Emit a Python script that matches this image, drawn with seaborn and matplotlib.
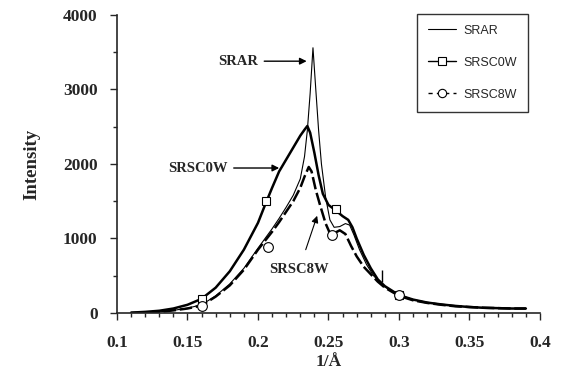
import numpy as np
import pandas as pd
import matplotlib
matplotlib.use("Agg")
import matplotlib.pyplot as plt
from matplotlib.lines import Line2D
from matplotlib.ticker import MultipleLocator
import seaborn as sns

# values
srar_x = [0.11, 0.12, 0.13, 0.14, 0.15, 0.16, 0.17, 0.18, 0.19, 0.20, 0.205, 0.21, 0.215,
          0.22, 0.225, 0.23, 0.233, 0.235, 0.237, 0.239, 0.241, 0.243, 0.245, 0.248, 0.251,
          0.254, 0.258, 0.262, 0.265, 0.268, 0.272, 0.277, 0.282, 0.287, 0.29, 0.30, 0.31,
          0.32, 0.33, 0.34, 0.35, 0.36, 0.37, 0.38, 0.39]
srar_y = [0, 5, 15, 35, 65, 110, 230, 390, 600, 870, 1000, 1130, 1270,
          1420, 1580, 1800, 2100, 2450, 2950, 3560, 3000, 2450, 2000, 1550, 1250,
          1150, 1160, 1200, 1180, 1050, 850, 650, 500, 400, 350, 240, 180,
          140, 115, 95, 80, 70, 65, 60, 60]

sc0w_x = [0.11, 0.12, 0.13, 0.14, 0.15, 0.16, 0.17, 0.18, 0.19, 0.20, 0.205, 0.21, 0.215,
          0.22, 0.225, 0.23, 0.233, 0.235, 0.237, 0.24, 0.243, 0.246, 0.25, 0.255, 0.26,
          0.264, 0.267, 0.27, 0.275, 0.28, 0.285, 0.29, 0.30, 0.31, 0.32, 0.33, 0.34,
          0.35, 0.36, 0.37, 0.38, 0.39]
sc0w_y = [5, 15, 30, 60, 110, 190, 340, 560, 850, 1210, 1450, 1680, 1900,
          2060, 2220, 2380, 2460, 2510, 2420, 2150, 1850, 1600, 1450, 1380, 1300,
          1250, 1150, 1000, 780, 600, 450, 360, 240, 180, 140, 115, 95,
          80, 70, 65, 60, 60]

sc8w_x = [0.11, 0.12, 0.13, 0.14, 0.15, 0.16, 0.17, 0.18, 0.19, 0.20, 0.205, 0.21, 0.215,
          0.22, 0.225, 0.23, 0.233, 0.236, 0.238, 0.241, 0.244, 0.248, 0.251, 0.255, 0.258,
          0.262, 0.266, 0.27, 0.275, 0.28, 0.285, 0.29, 0.30, 0.31, 0.32, 0.33, 0.34,
          0.35, 0.36, 0.37, 0.38, 0.39]
sc8w_y = [0, 5, 15, 35, 60, 100, 220, 370, 580, 850, 970, 1090, 1220,
          1360, 1500, 1680, 1830, 1960, 1900, 1650, 1450, 1200, 1070, 1080, 1110,
          1060, 900, 760, 620, 520, 420, 340, 230, 170, 135, 110, 90,
          80, 70, 65, 60, 60]

# sparse symbols on the two treated samples
sq_x = [0.16, 0.2055, 0.255, 0.30]
sq_y = [190, 1500, 1390, 235]
circ_x = [0.16, 0.207, 0.2525, 0.30]
circ_y = [90, 890, 1045, 240]

x_ticks = [0.1, 0.15, 0.2, 0.25, 0.3, 0.35, 0.4]
x_labels = ['0.1', '0.15', '0.2', '0.25', '0.3', '0.35', '0.4']

sns.set_style("ticks")
plt.rcParams['font.family'] = ['Liberation Serif', 'DejaVu Serif']

fig = plt.figure(figsize=(5.63, 3.73), dpi=100)
ax = fig.add_axes([0.2078, 0.1609, 0.7513, 0.7989])

sns.lineplot(x=srar_x, y=srar_y, ax=ax, color='black', lw=0.8, sort=False)
sns.lineplot(x=sc0w_x, y=sc0w_y, ax=ax, color='black', lw=1.8, sort=False)
sns.lineplot(x=sc8w_x, y=sc8w_y, ax=ax, color='black', lw=1.8, sort=False,
             linestyle=(0, (5, 1.5)))
ax.plot(sq_x, sq_y, ls='none', marker='s', ms=6, mfc='white', mec='black', mew=0.8)
ax.plot(circ_x, circ_y, ls='none', marker='o', ms=7, mfc='white', mec='black', mew=0.8)

# small stray mark in the original
ax.vlines(0.288, 410, 580, color='black', lw=1)

ax.set_xlim(0.1, 0.4)
ax.set_ylim(0, 4000)
ax.set_xticks(x_ticks)
ax.set_xticklabels(x_labels)
ax.xaxis.set_minor_locator(MultipleLocator(0.01))
ax.yaxis.set_major_locator(MultipleLocator(1000))
ax.yaxis.set_minor_locator(MultipleLocator(500))
ax.tick_params(axis='both', which='major', direction='out', length=5, width=1,
               labelsize=12.5)
ax.tick_params(axis='x', which='major', pad=11)
ax.tick_params(axis='y', which='major', pad=9)
ax.tick_params(axis='both', which='minor', direction='out', length=3, width=1)
for lab in ax.get_xticklabels() + ax.get_yticklabels():
    lab.set_fontweight('bold')
ax.set_xlabel('1/Å', fontsize=12.5, fontweight='bold', labelpad=2)
ax.set_ylabel('Intensity', fontsize=13.5, fontweight='bold', labelpad=16)
sns.despine(ax=ax)
for sp in ['left', 'bottom']:
    ax.spines[sp].set_linewidth(1.2)

arrow = dict(arrowstyle='-|>', color='black', lw=1, mutation_scale=10)
ax.annotate('SRAR', xy=(0.2365, 3380), xytext=(0.186, 3380), fontsize=10.5,
            fontweight='bold', ha='center', va='center', arrowprops=arrow)
ax.annotate('SRSC0W', xy=(0.217, 1946), xytext=(0.1574, 1946), fontsize=10.5,
            fontweight='bold', ha='center', va='center', arrowprops=arrow)
ax.annotate('SRSC8W', xy=(0.2426, 1340), xytext=(0.229, 577), fontsize=10.5,
            fontweight='bold', ha='center', va='center',
            arrowprops=dict(arrowstyle='-|>', color='black', lw=0.8, mutation_scale=10,
                            shrinkA=8))

handles = [
    Line2D([], [], color='black', lw=0.8),
    Line2D([], [], color='black', lw=1, marker='s', ms=6, mfc='white', mec='black', mew=0.8),
    Line2D([], [], color='black', lw=1, ls=(0, (3, 3)), marker='o', ms=6, mfc='white',
           mec='black', mew=0.8),
]
leg = ax.legend(handles, ['SRAR', 'SRSC0W', 'SRSC8W'], loc='upper right',
                bbox_to_anchor=(0.972, 1.005), frameon=True, fancybox=False,
                prop={'family': 'Liberation Sans', 'size': 9}, labelspacing=1.6,
                handlelength=2.2, handletextpad=0.6, borderpad=0.9, borderaxespad=0)
leg.get_frame().set_edgecolor('black')
leg.get_frame().set_linewidth(1)

fig.savefig('out.png', dpi=100)
